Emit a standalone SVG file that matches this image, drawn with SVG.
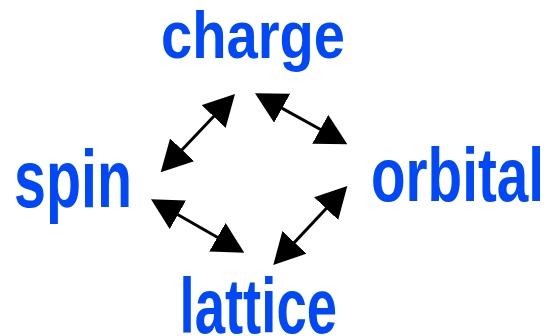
<svg xmlns="http://www.w3.org/2000/svg" width="545" height="336" viewBox="0 0 545 336">
<style>
.lbl{font-family:"Liberation Sans",Arial,sans-serif;font-weight:bold;fill:#0048F8}
.conn{stroke:#000;stroke-width:3;fill:none;marker-start:url(#head);marker-end:url(#head)}
</style>
<defs>
<marker id="head" viewBox="0 0 31 33" refX="21" refY="16.5" markerWidth="31" markerHeight="33" markerUnits="userSpaceOnUse" orient="auto-start-reverse">
<path d="M0,0 L31,16.5 L0,33 Z" fill="#000"/>
</marker>
</defs>
<rect width="545" height="336" fill="#fff"/>
<g id="connectors">
<line class="conn" x1="167.6" y1="165.0" x2="228.1" y2="101.3"/>
<line class="conn" x1="263.75" y1="98.1" x2="338.6" y2="139.5"/>
<line class="conn" x1="159.7" y1="204.3" x2="235.6" y2="247.7"/>
<line class="conn" x1="280.1" y1="257.7" x2="340.5" y2="193.3"/>
</g>
<g id="charge"><text class="lbl" x="161" y="57.5" font-size="67" textLength="184" lengthAdjust="spacingAndGlyphs">charge</text></g>
<g id="spin"><text class="lbl" x="14" y="206.7" font-size="82" textLength="118" lengthAdjust="spacingAndGlyphs">spin</text></g>
<g id="orbital"><text class="lbl" x="371" y="200.7" font-size="76" textLength="173" lengthAdjust="spacingAndGlyphs">orbital</text></g>
<g id="lattice"><text class="lbl" x="179.5" y="332.7" font-size="78" textLength="157.5" lengthAdjust="spacingAndGlyphs">lattice</text></g>
</svg>
